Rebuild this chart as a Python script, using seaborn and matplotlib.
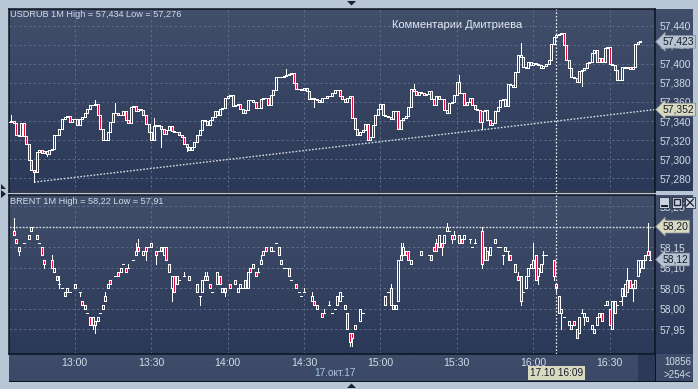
import numpy as np
import pandas as pd
import seaborn as sns
import matplotlib
matplotlib.use("Agg")
import matplotlib.pyplot as plt
from matplotlib.colors import LinearSegmentedColormap
from matplotlib.patches import Polygon, Rectangle
from matplotlib.ticker import FuncFormatter

# minutes since midnight: first USDRUB bar is 12:34
first_minute = 754

usd_close = [
    57.339, 57.340, 57.338, 57.325, 57.324, 57.338, 57.324, 57.316, 57.299, 57.289,
    57.287, 57.308, 57.310, 57.307, 57.309, 57.305, 57.310, 57.311, 57.325, 57.325,
    57.332, 57.342, 57.344, 57.345, 57.339, 57.342, 57.342, 57.336, 57.342, 57.344,
    57.348, 57.353, 57.357, 57.357, 57.358, 57.346, 57.332, 57.320, 57.320, 57.329,
    57.339, 57.348, 57.348, 57.346, 57.346, 57.350, 57.341, 57.338, 57.355, 57.356,
    57.350, 57.353, 57.352, 57.346, 57.337, 57.328, 57.320, 57.335, 57.336, 57.335,
    57.332, 57.326, 57.331, 57.335, 57.330, 57.329, 57.328, 57.325, 57.323, 57.316,
    57.313, 57.310, 57.313, 57.318, 57.325, 57.331, 57.341, 57.340, 57.336, 57.341,
    57.344, 57.350, 57.346, 57.353, 57.354, 57.364, 57.366, 57.367, 57.356, 57.357,
    57.358, 57.353, 57.348, 57.352, 57.362, 57.362, 57.360, 57.354, 57.354, 57.363,
    57.364, 57.364, 57.357, 57.367, 57.373, 57.386, 57.386, 57.386, 57.387, 57.388,
    57.389, 57.390, 57.380, 57.374, 57.374, 57.373, 57.375, 57.371, 57.363, 57.364,
    57.363, 57.362, 57.360, 57.364, 57.364, 57.366, 57.366, 57.369, 57.372, 57.372,
    57.366, 57.363, 57.360, 57.364, 57.366, 57.343, 57.332, 57.325, 57.329, 57.331,
    57.337, 57.320, 57.323, 57.336, 57.346, 57.353, 57.358, 57.346, 57.345, 57.344,
    57.342, 57.350, 57.350, 57.332, 57.341, 57.343, 57.345, 57.355, 57.374, 57.371,
    57.367, 57.370, 57.369, 57.367, 57.368, 57.371, 57.363, 57.357, 57.366, 57.363,
    57.363, 57.352, 57.348, 57.359, 57.360, 57.367, 57.381, 57.369, 57.369, 57.357,
    57.360, 57.364, 57.357, 57.353, 57.352, 57.339, 57.350, 57.352, 57.341, 57.336,
    57.338, 57.350, 57.355, 57.362, 57.363, 57.356, 57.379, 57.378, 57.376, 57.391,
    57.409, 57.407, 57.397, 57.396, 57.402, 57.399, 57.401, 57.400, 57.399, 57.396,
    57.398, 57.400, 57.404, 57.421, 57.428, 57.430, 57.431, 57.432, 57.420, 57.404,
    57.395, 57.386, 57.385, 57.381, 57.392, 57.393, 57.395, 57.401, 57.402, 57.411,
    57.414, 57.402, 57.406, 57.402, 57.416, 57.417, 57.400, 57.399, 57.393, 57.383,
    57.383, 57.397, 57.395, 57.397, 57.394, 57.397, 57.421, 57.423, 57.424,
]
usd_high = {1: 57.346, 34: 57.362, 42: 57.359, 57: 57.343, 109: 57.394, 159: 57.379,
            177: 57.388, 201: 57.422}
usd_low = {10: 57.276, 15: 57.303, 60: 57.313, 70: 57.309, 120: 57.355, 186: 57.332,
           225: 57.377}

brent_bar = [
    2, 3, 4, 6, 8, 9, 11, 12, 13, 14,
    17, 18, 19, 20, 21, 22, 23, 24, 26, 28,
    29, 30, 31, 32, 33, 34, 35, 36, 37, 38,
    39, 40, 42, 43, 44, 45, 46, 47, 49, 50,
    51, 53, 54, 55, 56, 58, 59, 60, 61, 62,
    63, 64, 65, 66, 67, 69, 71, 74, 75, 76,
    77, 78, 79, 80, 82, 83, 84, 85, 87, 89,
    90, 91, 92, 93, 94, 95, 96, 97, 98, 99,
    100, 101, 103, 104, 105, 106, 107, 108, 109, 110,
    111, 113, 114, 115, 116, 119, 120, 121, 123, 124,
    126, 127, 128, 129, 130, 131, 132, 133, 134, 135,
    136, 138, 139, 148, 149, 150, 151, 152, 153, 154,
    155, 156, 157, 158, 162, 165, 166, 167, 168, 169,
    170, 171, 172, 173, 174, 175, 177, 178, 179, 181,
    182, 183, 186, 187, 188, 189, 191, 192, 193, 194,
    195, 196, 197, 199, 200, 201, 202, 203, 204, 205,
    206, 207, 208, 209, 210, 211, 214, 215, 216, 217,
    218, 220, 221, 222, 223, 224, 225, 226, 227, 229,
    230, 231, 232, 233, 234, 235, 236, 237, 238, 239,
    240, 241, 242, 243, 244, 245, 246, 247, 248, 249,
    250, 251, 252,
]
brent_open = [
    58.19, 58.17, 58.15, 58.16, 58.17, 58.19, 58.18, 58.16, 58.15, 58.12,
    58.12, 58.09, 58.08, 58.06, 58.05, 58.04, 58.04, 58.04, 58.06, 58.04,
    58.02, 58.00, 57.99, 57.98, 57.96, 57.97, 57.97, 57.99, 58.00, 58.02,
    58.05, 58.07, 58.08, 58.09, 58.09, 58.11, 58.10, 58.10, 58.12, 58.13,
    58.15, 58.13, 58.15, 58.15, 58.16, 58.14, 58.14, 58.15, 58.13, 58.15,
    58.11, 58.05, 58.08, 58.06, 58.07, 58.08, 58.07, 58.06, 58.03, 58.04,
    58.08, 58.08, 58.06, 58.04, 58.06, 58.08, 58.04, 58.05, 58.06, 58.07,
    58.04, 58.05, 58.05, 58.07, 58.05, 58.10, 58.10, 58.09, 58.09, 58.11,
    58.13, 58.15, 58.14, 58.14, 58.16, 58.15, 58.12, 58.10, 58.10, 58.10,
    58.07, 58.06, 58.04, 58.03, 58.04, 58.02, 58.02, 58.00, 57.99, 57.99,
    58.01, 57.99, 58.00, 58.01, 58.02, 58.03, 58.00, 57.99, 57.94, 57.94,
    57.95, 57.97, 57.99, 58.01, 58.04, 58.05, 58.00, 58.00, 58.02, 58.13,
    58.13, 58.14, 58.14, 58.11, 58.13, 58.13, 58.13, 58.15, 58.16, 58.15,
    58.16, 58.16, 58.19, 58.19, 58.18, 58.17, 58.18, 58.17, 58.17, 58.17,
    58.15, 58.16, 58.19, 58.12, 58.14, 58.13, 58.17, 58.15, 58.15, 58.13,
    58.14, 58.14, 58.13, 58.11, 58.08, 58.08, 58.04, 58.05, 58.08, 58.10,
    58.10, 58.13, 58.08, 58.09, 58.13, 58.13, 58.12, 58.06, 58.03, 57.99,
    57.98, 57.96, 57.95, 57.97, 57.95, 57.94, 57.99, 57.98, 57.97, 57.95,
    57.94, 57.96, 57.98, 57.99, 58.01, 58.02, 58.00, 57.95, 57.99, 58.01,
    58.02, 58.03, 58.03, 58.07, 58.07, 58.06, 58.05, 58.08, 58.10, 58.10,
    58.13, 58.14, 58.12,
]
brent_close = [
    58.18, 58.16, 58.14, 58.16, 58.18, 58.20, 58.17, 58.16, 58.13, 58.11,
    58.10, 58.10, 58.07, 58.06, 58.05, 58.03, 58.05, 58.04, 58.05, 58.04,
    58.01, 58.01, 57.99, 57.96, 57.98, 57.96, 57.98, 57.99, 58.01, 58.03,
    58.06, 58.06, 58.08, 58.08, 58.10, 58.11, 58.09, 58.10, 58.12, 58.14,
    58.14, 58.14, 58.14, 58.15, 58.15, 58.13, 58.14, 58.14, 58.15, 58.12,
    58.09, 58.08, 58.04, 58.08, 58.07, 58.08, 58.08, 58.04, 58.03, 58.07,
    58.07, 58.07, 58.05, 58.04, 58.09, 58.06, 58.05, 58.04, 58.05, 58.06,
    58.05, 58.06, 58.05, 58.05, 58.09, 58.09, 58.11, 58.08, 58.09, 58.12,
    58.14, 58.14, 58.15, 58.14, 58.16, 58.13, 58.11, 58.10, 58.10, 58.08,
    58.07, 58.05, 58.04, 58.03, 58.04, 58.03, 58.01, 58.01, 57.98, 57.99,
    58.01, 57.99, 58.00, 58.03, 58.04, 58.03, 58.01, 57.95, 57.92, 57.93,
    57.96, 58.00, 57.99, 58.03, 58.04, 58.01, 58.01, 58.01, 58.12, 58.12,
    58.15, 58.13, 58.12, 58.12, 58.14, 58.13, 58.12, 58.14, 58.14, 58.18,
    58.15, 58.18, 58.20, 58.19, 58.17, 58.18, 58.16, 58.16, 58.18, 58.17,
    58.15, 58.16, 58.11, 58.15, 58.12, 58.15, 58.16, 58.15, 58.15, 58.13,
    58.15, 58.14, 58.12, 58.09, 58.07, 58.02, 58.04, 58.08, 58.10, 58.11,
    58.12, 58.07, 58.10, 58.11, 58.13, 58.13, 58.08, 58.05, 57.99, 58.00,
    57.98, 57.97, 57.96, 57.96, 57.93, 57.98, 57.99, 57.99, 57.98, 57.96,
    57.95, 57.98, 57.99, 57.97, 58.01, 58.01, 57.96, 58.02, 58.02, 58.01,
    58.02, 58.05, 58.06, 58.04, 58.05, 58.05, 58.07, 58.12, 58.12, 58.12,
    58.12, 58.13, 58.12,
]
brent_high = {2: 58.22, 17: 58.13, 20: 58.08, 38: 58.04, 47: 58.11, 50: 58.16, 51: 58.17,
              69: 58.09, 77: 58.09, 78: 58.09, 98: 58.10, 99: 58.13, 116: 58.05, 119: 58.04,
              124: 58.00, 126: 58.02, 150: 58.06, 154: 58.16, 155: 58.16, 168: 58.17,
              172: 58.21, 175: 58.19, 183: 58.17, 186: 58.20, 200: 58.09, 206: 58.16,
              210: 58.14, 225: 58.00, 243: 58.10, 251: 58.21, 252: 58.14}
brent_low = {4: 58.13, 14: 58.10, 20: 58.05, 28: 58.03, 33: 57.95, 34: 57.94, 54: 58.12,
             58: 58.11, 64: 58.02, 75: 58.01, 85: 58.03, 134: 57.91, 135: 57.91, 170: 58.13,
             174: 58.16, 181: 58.16, 186: 58.10, 194: 58.11, 196: 58.12, 201: 58.01,
             208: 58.06, 210: 58.11, 214: 58.07, 215: 58.04, 217: 57.95, 226: 57.96,
             241: 58.01, 245: 58.02, 248: 58.09}

usd_ticks = [57.28, 57.30, 57.32, 57.34, 57.36, 57.38, 57.40, 57.42, 57.44]
brent_ticks = [57.95, 58.00, 58.05, 58.10, 58.15, 58.20, 58.25]
time_ticks = [780, 810, 840, 870, 900, 930, 960, 990]
trend_minute = [764, 1007.8]
trend_price = [57.276, 57.352]
cursor_minute = 969
level_brent = 58.20

W, H = 698, 389
frame_col = "#b9c6d6"
text_col = "#d3dbe6"
grid_col = "#5d6c8a"
red = "#e0103c"

sns.set_theme(style="dark", rc={"axes.grid": False})
plt.rcParams["font.family"] = ["Liberation Sans", "DejaVu Sans"]


def px_axes(fig, left, top, right, bottom, **kw):
    return fig.add_axes([left / W, 1 - bottom / H, (right - left) / W, (bottom - top) / H], **kw)


def add_backdrop(fig, left, top, right, bottom, top_col, bot_col):
    ax = px_axes(fig, left, top, right, bottom, zorder=0)
    cmap = LinearSegmentedColormap.from_list("pane", [top_col, bot_col])
    ax.imshow(np.linspace(0, 1, 128)[:, None], cmap=cmap, aspect="auto")
    ax.axis("off")
    return ax


def make_frame(bars, opens, closes, highs, lows):
    df = pd.DataFrame({"bar": bars, "open": opens, "close": closes})
    df["minute"] = first_minute + df["bar"]
    df["high"] = df[["open", "close"]].max(axis=1)
    df["low"] = df[["open", "close"]].min(axis=1)
    for k, v in highs.items():
        df.loc[df["bar"] == k, "high"] = np.maximum(df.loc[df["bar"] == k, "high"], v)
    for k, v in lows.items():
        df.loc[df["bar"] == k, "low"] = np.minimum(df.loc[df["bar"] == k, "low"], v)
    return df


def draw_candles(ax, df):
    ax.vlines(df["minute"], df["low"], df["high"], color="white", lw=0.68, zorder=3, antialiased=False)
    down = df["close"] < df["open"]
    bottoms = df[["open", "close"]].min(axis=1)
    heights = (df["close"] - df["open"]).abs()
    ax.bar(df["minute"][~down], heights[~down], bottom=bottoms[~down], width=0.785, color="#33415f",
           edgecolor="white", lw=0.68, zorder=4, antialiased=False)
    ax.bar(df["minute"][down], heights[down], bottom=bottoms[down], width=0.785, color=red,
           edgecolor="white", lw=0.68, zorder=4, antialiased=False)


def style_panel(ax, ylim, ticks, fmt):
    ax.patch.set_alpha(0)
    ax.set_xlim(754.2, 1007.8)
    ax.set_ylim(*ylim)
    ax.set_yticks(ticks)
    ax.set_xticks(time_ticks)
    ax.yaxis.tick_right()
    ax.yaxis.set_major_formatter(FuncFormatter(lambda v, _: format(v, fmt).replace(".", ",")))
    ax.xaxis.set_major_formatter(FuncFormatter(lambda v, _: f"{int(v) // 60}:{int(v) % 60:02d}"))
    ax.tick_params(axis="y", length=0, pad=3, labelsize=7.4, labelcolor=text_col)
    ax.tick_params(axis="x", length=0, pad=3, labelsize=7.6, labelcolor=text_col)
    ax.grid(True, color=grid_col, lw=0.7, linestyle=(0, (2.4, 2.6)), zorder=1)
    ax.set_axisbelow(True)
    for s in ax.spines.values():
        s.set_color("#0d1420")
        s.set_linewidth(1.1)
    ax.axvline(cursor_minute, color="#eef1f5", lw=0.9, linestyle=(0, (1.3, 1.5)), zorder=5)


def price_tag(ax, value, label, col):
    ax.text(1.0115, value, label, transform=ax.get_yaxis_transform(), ha="left", va="center",
            fontsize=7.4, color="#141c2c", zorder=10, clip_on=False,
            bbox=dict(boxstyle="larrow,pad=0.14", fc=col, ec="#77808f", lw=0.5))


fig = plt.figure(figsize=(W / 100, H / 100), dpi=100, facecolor=frame_col)

add_backdrop(fig, 9, 9, 693, 191.5, "#414f6b", "#2b3958")
add_backdrop(fig, 9, 194.7, 693, 354, "#414f6b", "#2b3958")
add_backdrop(fig, 9, 354, 693, 381, "#3f4d6a", "#3b4966")
strip = px_axes(fig, 638, 354.5, 655, 381, zorder=0.5, facecolor="#2c3a58")
strip.set_xticks([])
strip.set_yticks([])
for s in strip.spines.values():
    s.set_visible(False)

usd_open = [usd_close[0]] + usd_close[:-1]
usd_df = make_frame(list(range(len(usd_close))), usd_open, usd_close, usd_high, usd_low)
brent_df = make_frame(brent_bar, brent_open, brent_close, brent_high, brent_low)

ax_usd = px_axes(fig, 9, 9, 655, 191.5, zorder=2)
style_panel(ax_usd, (57.2662, 57.4573), usd_ticks, ".3f")
ax_usd.tick_params(axis="x", labelbottom=False)
draw_candles(ax_usd, usd_df)
sns.lineplot(x=trend_minute, y=trend_price, ax=ax_usd, color="#d7dce4", lw=1.0,
             linestyle=(0, (1.2, 1.2)), zorder=2, legend=False, estimator=None)
ax_usd.set_xlabel("")
ax_usd.set_ylabel("")
ax_usd.set_xlim(754.2, 1007.8)

ax_brent = px_axes(fig, 9, 194.7, 655, 354, zorder=2)
style_panel(ax_brent, (57.8899, 58.2778), brent_ticks, ".2f")
draw_candles(ax_brent, brent_df)
sns.lineplot(x=[754.2, 1007.8], y=[level_brent, level_brent], ax=ax_brent, color="#d7dce4", lw=1.0,
             linestyle=(0, (1.2, 1.2)), zorder=2, legend=False, estimator=None)
ax_brent.set_xlabel("")
ax_brent.set_ylabel("")
ax_brent.set_xlim(754.2, 1007.8)

price_tag(ax_usd, 57.423, "57,423", "#b8c3d1")
price_tag(ax_usd, 57.352, "57,352", "#d9d9c0")
price_tag(ax_brent, 58.20, "58,20", "#d9d9c0")
price_tag(ax_brent, 58.12, "58,12", "#b8c3d1")

fig.text(10 / W, 1 - 14.5 / H, "USDRUB 1M High = 57,434 Low = 57,276", color=text_col, fontsize=6.6, va="center", zorder=12)
fig.text(10 / W, 1 - 201.5 / H, "BRENT 1M High = 58,22 Low = 57,91", color=text_col, fontsize=6.6, va="center", zorder=12)
fig.text(392 / W, 1 - 24.5 / H, "Комментарии Дмитриева", color="#e6eaf0", fontsize=8.0, va="center", zorder=12)
fig.text(314.5 / W, 1 - 373.5 / H, "17.окт.17", color="#a9c4e4", fontsize=7.3, va="center", zorder=12)
fig.text(664 / W, 1 - 362 / H, "10856", color=text_col, fontsize=7.0, va="center", zorder=12)
fig.text(664 / W, 1 - 375 / H, ">254<", color=text_col, fontsize=7.0, va="center", zorder=12)
fig.text(556.5 / W, 1 - 373 / H, "17.10 16:09", color="#141c2c", fontsize=7.2, va="center", ha="center", zorder=13,
         bbox=dict(boxstyle="square,pad=0.2", fc="#d9d9c0", ec="none"))


def px_rect(x, y, w, h, **kw):
    fig.add_artist(Rectangle((x / W, 1 - (y + h) / H), w / W, h / H, transform=fig.transFigure, **kw))


def px_poly(points, **kw):
    pts = [(x / W, 1 - y / H) for x, y in points]
    fig.add_artist(Polygon(pts, closed=True, transform=fig.transFigure, **kw))


px_rect(654.6, 354, 1, 27, fc="#0d1420", ec="none", zorder=11)
px_rect(9, 380.6, 684, 1, fc="#0d1420", ec="none", zorder=11)
px_rect(663, 368.5, 30, 0.7, fc="#8d99ad", ec="none", zorder=12)
for bx in (659, 672, 685):
    px_rect(bx, 197, 10, 11, fc="#c9d3df", ec="#101726", lw=0.5, zorder=12)
px_rect(660.5, 205, 7, 1.6, fc="#1a2233", ec="none", zorder=13)
px_rect(674, 199, 6, 6, fc="none", ec="#1a2233", lw=1.0, zorder=13)
fig.add_artist(plt.Line2D([686.5 / W, 693.5 / W], [1 - 199 / H, 1 - 206 / H], color="#1a2233", lw=0.9, zorder=13))
fig.add_artist(plt.Line2D([686.5 / W, 693.5 / W], [1 - 206 / H, 1 - 199 / H], color="#1a2233", lw=0.9, zorder=13))

px_poly([(347, 1), (356, 1), (351.5, 5.5)], fc="#1a2233", ec="none", zorder=12)
px_poly([(347, 388), (356, 388), (351.5, 383.5)], fc="#1a2233", ec="none", zorder=12)
px_poly([(1, 184), (1, 189), (6, 189)], fc="#1a2233", ec="none", zorder=12)
px_poly([(1, 190), (6, 194), (1, 198)], fc="#1a2233", ec="none", zorder=12)

fig.savefig("out.png", dpi=100, facecolor=frame_col)
